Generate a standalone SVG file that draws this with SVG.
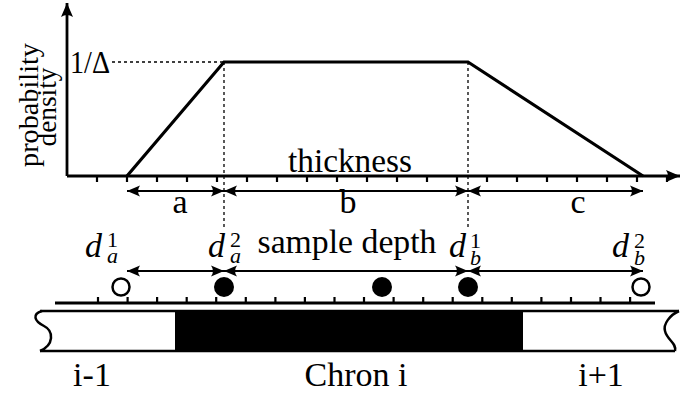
<svg xmlns="http://www.w3.org/2000/svg" width="680" height="394" viewBox="0 0 680 394">
<defs>
<marker id="ah" markerUnits="userSpaceOnUse" markerWidth="16" markerHeight="14" viewBox="-14 -7 16 14" refX="0" refY="0" orient="auto-start-reverse">
<path d="M0,0 L-13,-5.5 Q-9,0 -13,5.5 Z" fill="#000"/>
</marker>
<marker id="ax" markerUnits="userSpaceOnUse" markerWidth="18" markerHeight="16" viewBox="-16 -8 18 16" refX="0" refY="0" orient="auto">
<path d="M0,0 L-14,-6 Q-10,0 -14,6 Z" fill="#000"/>
</marker>
</defs>
<style>
.t{font-family:"Liberation Serif","Times New Roman",serif;fill:#000}
.ln{stroke:#000;fill:none}
.dash{stroke:#000;stroke-width:1.3;stroke-dasharray:3 3;fill:none}
.arr{stroke:#000;stroke-width:2.2;fill:none;marker-start:url(#ah);marker-end:url(#ah)}
.tick{stroke:#000;stroke-width:2.2}
.d{font-size:34px}
.d .i{font-style:italic}
.d .s{font-size:22px}
</style>
<rect width="680" height="394" fill="#fff"/>

<g id="plot">
<path class="ln" d="M67,176 H680" stroke-width="2.8" marker-end="url(#ax)"/>
<path class="ln" d="M67,176 V3" stroke-width="2.8" marker-end="url(#ax)"/>
<path class="tick" d="M97,176V182M127,176V182M157,176V182M187,176V182M217,176V182M247,176V182M277,176V182M307,176V182M337,176V182M367,176V182M397,176V182M427,176V182M457,176V182M487,176V182M517,176V182M547,176V182M577,176V182M607,176V182M637,176V182M667,176V182"/>
<polyline class="ln" stroke-width="3.2" stroke-linejoin="miter" points="127,176 224,62 468,62 643,176"/>
<path class="dash" d="M112,62 H224 M224,62 V228 M468,62 V228"/>
<text class="t" x="70" y="73" font-size="31" textLength="40" lengthAdjust="spacingAndGlyphs">1/Δ</text>
<text class="t" font-size="28" text-anchor="middle" transform="translate(38,105) rotate(-90)" textLength="124" lengthAdjust="spacingAndGlyphs">probability</text>
<text class="t" font-size="28" text-anchor="middle" transform="translate(56,107) rotate(-90)" textLength="79" lengthAdjust="spacingAndGlyphs">density</text>
<text class="t" x="350" y="172" font-size="33" text-anchor="middle" textLength="124" lengthAdjust="spacingAndGlyphs">thickness</text>
</g>

<g id="connectors">
<path class="arr" d="M127,191 H224"/>
<path class="arr" d="M224,191 H468"/>
<path class="arr" d="M468,191 H643"/>
<path class="arr" d="M127,271 H224"/>
<path class="arr" d="M224,271 H468"/>
<path class="arr" d="M468,271 H643"/>
</g>

<g id="labels">
<text class="t" x="180" y="213" font-size="34" text-anchor="middle">a</text>
<text class="t" x="348" y="213" font-size="34" text-anchor="middle">b</text>
<text class="t" x="578" y="213" font-size="34" text-anchor="middle">c</text>
<text class="t" x="347" y="253" font-size="33" text-anchor="middle" textLength="179" lengthAdjust="spacingAndGlyphs">sample depth</text>
</g>

<g id="da1">
<text class="t d" x="85" y="257"><tspan class="i">d</tspan><tspan class="s" dx="5" dy="-10">1</tspan><tspan class="s i" dx="-11" dy="16">a</tspan></text>
</g>
<g id="da2">
<text class="t d" x="208" y="257"><tspan class="i">d</tspan><tspan class="s" dx="5" dy="-10">2</tspan><tspan class="s i" dx="-11" dy="16">a</tspan></text>
</g>
<g id="db1">
<text class="t d" x="449" y="257"><tspan class="i">d</tspan><tspan class="s" dx="4" dy="-9">1</tspan><tspan class="s i" dx="-11" dy="17">b</tspan></text>
</g>
<g id="db2">
<text class="t d" x="612" y="257"><tspan class="i">d</tspan><tspan class="s" dx="5" dy="-9">2</tspan><tspan class="s i" dx="-11" dy="17">b</tspan></text>
</g>

<g id="samples">
<circle cx="121" cy="287" r="8.5" fill="#fff" stroke="#000" stroke-width="2.5"/>
<circle cx="224" cy="287" r="10" fill="#000"/>
<circle cx="382" cy="287" r="10" fill="#000"/>
<circle cx="468" cy="287" r="10" fill="#000"/>
<circle cx="641" cy="287" r="8.5" fill="#fff" stroke="#000" stroke-width="2.5"/>
</g>

<g id="depth-axis">
<path class="ln" d="M55,303 H655" stroke-width="2.8"/>
<path class="tick" d="M98,297V303M127.6,297V303M157.1,297V303M186.7,297V303M216.2,297V303M245.8,297V303M275.4,297V303M304.9,297V303M334.5,297V303M364,297V303M393.6,297V303M423.2,297V303M452.7,297V303M482.3,297V303M511.8,297V303M541.4,297V303M571,297V303M600.5,297V303M630.1,297V303"/>
</g>

<g id="chron-bar">
<rect x="175" y="311" width="348" height="40" fill="#000"/>
<path class="ln" stroke-width="2.5" d="M40,311 H679 M40,351 H675"/>
<path class="ln" stroke-width="2.5" d="M42,311 C32,314 34,321 44,326 C54,331 54,345 40,351"/>
<path class="ln" stroke-width="2.5" d="M679,311 C670,315 663,324 665,331 C667,340 677,343 675,351"/>
</g>

<g id="chron-labels">
<text class="t" x="92" y="386" font-size="34" text-anchor="middle">i-1</text>
<text class="t" x="356" y="386" font-size="34" text-anchor="middle" textLength="103" lengthAdjust="spacingAndGlyphs">Chron i</text>
<text class="t" x="601" y="386" font-size="34" text-anchor="middle">i+1</text>
</g>
</svg>
